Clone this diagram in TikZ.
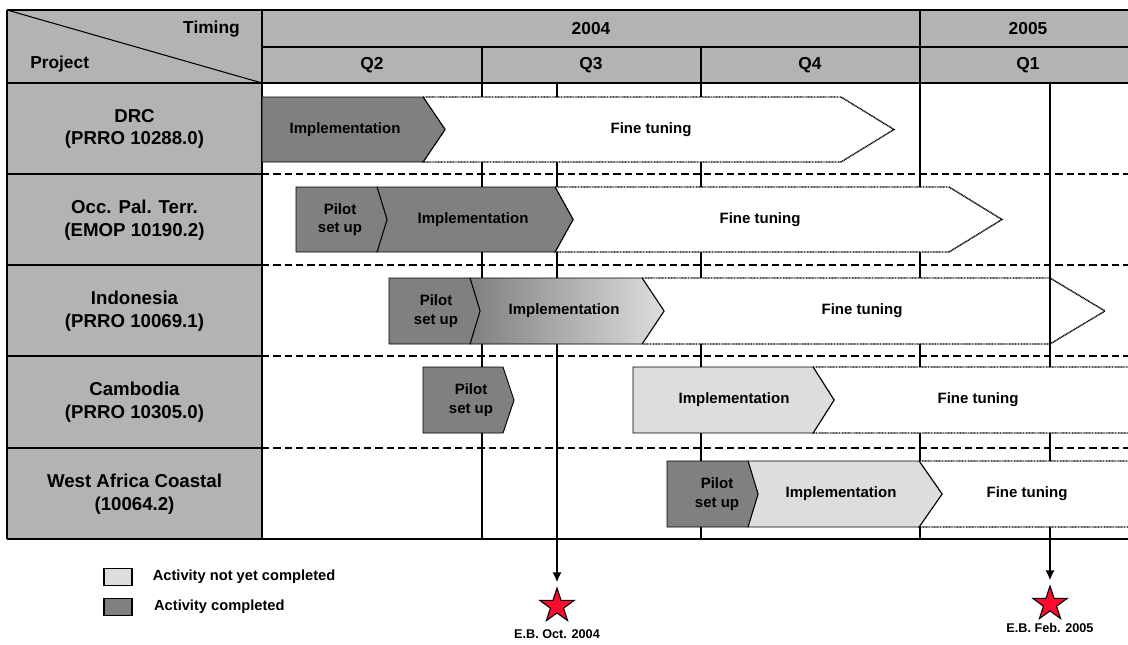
\documentclass[tikz,border=0pt]{standalone}
\usepackage{fontspec}
\setmainfont{Liberation Sans}
\usepackage{tikz}
\usetikzlibrary{positioning, arrows.meta, shapes.geometric}
\definecolor{hdrgray}{HTML}{B3B3B3}
\definecolor{donegray}{HTML}{808080}
\definecolor{todogray}{HTML}{DDDDDD}
\definecolor{starred}{HTML}{FF0A2E}
\tikzset{
    tablerule/.style={line width=1.1pt},
    rowsep/.style={line width=1.4pt, dash pattern=on 5.5pt off 3pt},
    hdr/.style={inner sep=0pt, font=\bfseries\fontsize{13}{15}\selectfont},
    proj/.style={align=center, inner sep=0pt, font=\bfseries\fontsize{14}{17}\selectfont},
    donebar/.style={draw=black, line width=0.7pt, fill=donegray},
    todobar/.style={draw=black, line width=0.7pt, fill=todogray},
    tunebar/.style={draw=black, line width=1.1pt, dash pattern=on 0.7pt off 0.45pt, fill=white},
    barlabel/.style={align=center, inner sep=0pt, font=\bfseries\fontsize{11.25}{14}\selectfont},
    ebline/.style={line width=1.4pt, -{Latex[length=7.5pt, width=7pt]}},
    ebstar/.style={star, star points=5, star point ratio=2.6, draw=black, line width=0.8pt, fill=starred, minimum size=27pt, inner sep=0pt},
    ebtext/.style={inner sep=0pt, font=\bfseries\fontsize{9.5}{12}\selectfont},
    legbox/.style={rectangle, draw=black, line width=0.8pt, minimum width=21pt, minimum height=13pt, inner sep=0pt},
    legtext/.style={inner sep=0pt, font=\bfseries\fontsize{11}{13}\selectfont}
}

\begin{document}
\begin{tikzpicture}[x=0.75pt, y=-0.75pt]
    \useasboundingbox (0,0) rectangle (1128,644);

    % Header and project column
    \fill[hdrgray] (7,10) rectangle (1136,83);
    \fill[hdrgray] (7,83) rectangle (262,539);

    % Quarter lines
    \foreach \x in {482, 701, 920}
        \draw[tablerule] (\x,83) -- (\x,539);

    % Row separators
    \foreach \y in {174, 265, 356, 448} {
        \draw[tablerule] (7,\y) -- (262,\y);
        \draw[rowsep] (262,\y) -- (1136,\y);
    }

    % Executive Board marks
    \node[ebstar] (StarOct) at (557,606) {};
    \node[ebstar] (StarFeb) at (1050,604) {};
    \coordinate (OctTop) at (557,83);
    \coordinate (FebTop) at (1050,83);
    \draw[ebline, shorten >=3pt] (OctTop) -- (StarOct.north);

    % Table frame
    \draw[tablerule] (7,10) -- (1136,10);
    \draw[tablerule] (262,47) -- (1136,47);
    \draw[tablerule] (7,83) -- (1136,83);
    \draw[tablerule] (7,539) -- (1136,539);
    \draw[tablerule] (7,10) -- (7,539);
    \draw[tablerule] (262,10) -- (262,539);
    \draw[tablerule] (920,10) -- (920,83);
    \foreach \x in {482, 701}
        \draw[tablerule] (\x,47) -- (\x,83);
    \draw[line width=0.8pt] (7,10) -- (262,83);

    % --- DRC ---
    \draw[tunebar] (423,97) -- (841,97) -- (894,129.5) -- (841,162) -- (423,162) -- (445,129.5) -- cycle;
    \draw[donebar] (262,97) -- (423,97) -- (445,129.5) -- (423,162) -- (262,162) -- cycle;

    % --- Occ. Pal. Terr. ---
    \draw[tunebar] (555,187) -- (949,187) -- (1002,219.5) -- (949,252) -- (555,252) -- (573,219.5) -- cycle;
    \draw[donebar] (377,187) -- (555,187) -- (573,219.5) -- (555,252) -- (377,252) -- (387,219.5) -- cycle;
    \draw[donebar] (296,187) -- (377,187) -- (387,219.5) -- (377,252) -- (296,252) -- cycle;

    % --- Indonesia ---
    \draw[tunebar] (642,278) -- (1050,278) -- (1105,311) -- (1050,344) -- (642,344) -- (664,311) -- cycle;
    \draw[donebar, left color=donegray, right color=todogray] (470,278) -- (642,278) -- (664,311) -- (642,344) -- (470,344) -- (480,311) -- cycle;
    \draw[donebar] (389,278) -- (470,278) -- (480,311) -- (470,344) -- (389,344) -- cycle;

    % E.B. Feb. 2005 line
    \draw[ebline, shorten >=3pt] (FebTop) -- (StarFeb.north);

    % --- Cambodia ---
    \draw[tunebar] (813,367) -- (1140,367) -- (1140,433) -- (813,433) -- (834,400) -- cycle;
    \draw[todobar] (633,367) -- (813,367) -- (834,400) -- (813,433) -- (633,433) -- cycle;
    \draw[donebar] (423,367) -- (503,367) -- (514,400) -- (503,433) -- (423,433) -- cycle;

    % --- West Africa Coastal ---
    \draw[tunebar] (919,461) -- (1140,461) -- (1140,527) -- (919,527) -- (942,494) -- cycle;
    \draw[todobar] (748,461) -- (919,461) -- (942,494) -- (919,527) -- (748,527) -- (758,494) -- cycle;
    \draw[donebar] (667,461) -- (748,461) -- (758,494) -- (748,527) -- (667,527) -- cycle;

    % Header texts
    \node[hdr, anchor=east] (Timing) at (240,29) {Timing};
    \node[hdr, anchor=west] (Project) at (30,64) {Project};
    \node[hdr] (Y2004) at (591,29) {2004};
    \node[hdr] (Y2005) at (1028,29) {2005};
    \node[hdr] (Q2) at (372,65) {Q2};
    \node[hdr] (Q3) at (591,65) {Q3};
    \node[hdr] (Q4) at (810,65) {Q4};
    \node[hdr] (Q1) at (1028,65) {Q1};

    % Project names
    \node[proj] (DRC) at (134.5,129) {DRC\\(PRRO 10288.0)};
    \node[proj] (OPT) at (134.5,220) {Occ. Pal. Terr.\\(EMOP 10190.2)};
    \node[proj] (IDN) at (134.5,311) {Indonesia\\(PRRO 10069.1)};
    \node[proj] (KHM) at (134.5,402) {Cambodia\\(PRRO 10305.0)};
    \node[proj] (WAC) at (134.5,494) {West Africa Coastal\\(10064.2)};

    % Bar labels
    \node[barlabel] (DRCImpl) at (345,129.5) {Implementation};
    \node[barlabel] (DRCTune) at (651,129.5) {Fine tuning};
    \node[barlabel] (OPTPilot) at (340,219.5) {Pilot\\set up};
    \node[barlabel] (OPTImpl) at (473,219.5) {Implementation};
    \node[barlabel] (OPTTune) at (760,219.5) {Fine tuning};
    \node[barlabel] (IDNPilot) at (436,311) {Pilot\\set up};
    \node[barlabel] (IDNImpl) at (564,311) {Implementation};
    \node[barlabel] (IDNTune) at (862,311) {Fine tuning};
    \node[barlabel] (KHMPilot) at (471,400) {Pilot\\set up};
    \node[barlabel] (KHMImpl) at (734,400) {Implementation};
    \node[barlabel] (KHMTune) at (978,400) {Fine tuning};
    \node[barlabel] (WACPilot) at (717,494) {Pilot\\set up};
    \node[barlabel] (WACImpl) at (841,494) {Implementation};
    \node[barlabel] (WACTune) at (1027,494) {Fine tuning};

    % Legend
    \node[legbox, fill=todogray] (LegTodo) at (118,577) {};
    \node[legtext, right=15pt of LegTodo] (LegTodoText) {Activity not yet completed};
    \node[legbox, fill=donegray] (LegDone) at (118,607) {};
    \node[legtext, right=16pt of LegDone] (LegDoneText) {Activity completed};

    % E.B. dates
    \node[ebtext] (OctText) at (557,634) {E.B. Oct. 2004};
    \node[ebtext] (FebText) at (1050,628) {E.B. Feb. 2005};
\end{tikzpicture}
\end{document}
